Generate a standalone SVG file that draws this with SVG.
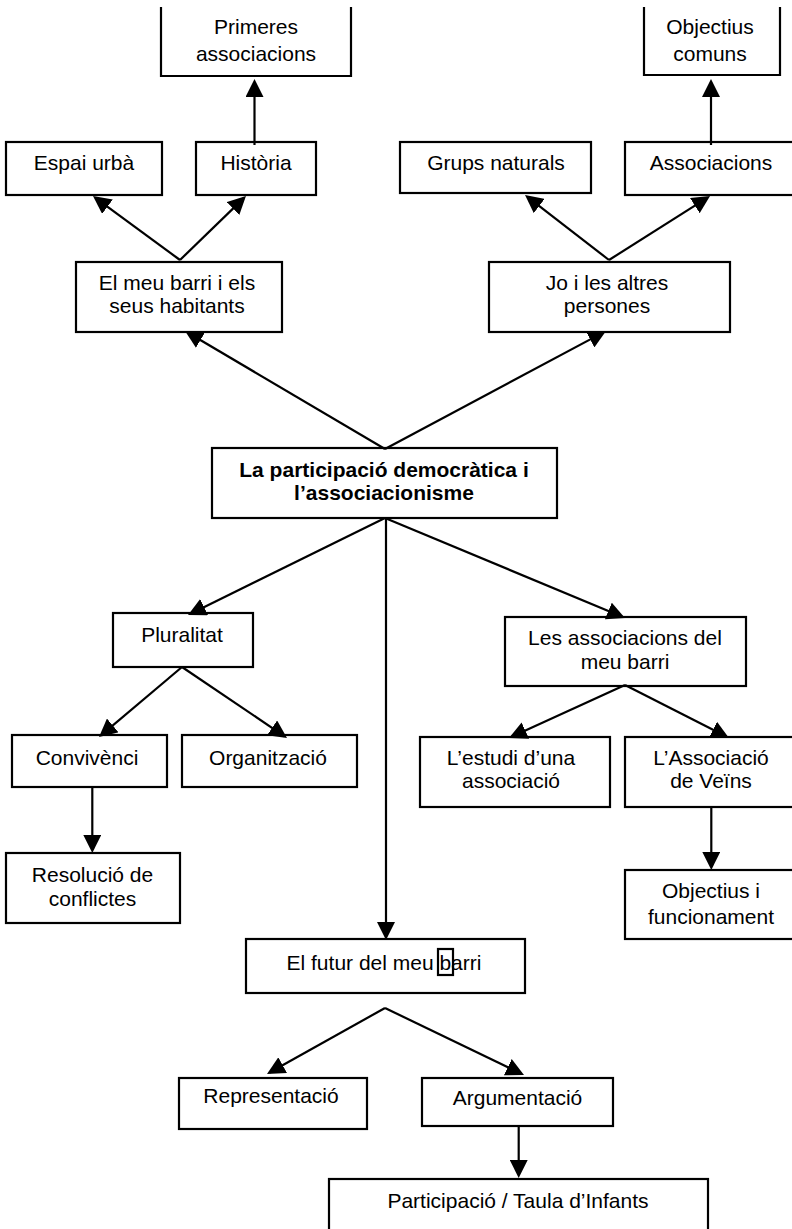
<svg xmlns="http://www.w3.org/2000/svg" width="792" height="1229" viewBox="0 0 792 1229">
<style>
.box{fill:#fff;stroke:#000;stroke-width:2.2}
.open{fill:none;stroke:#000;stroke-width:2.2}
.t{font-family:"Liberation Sans",Arial,sans-serif;font-size:21px;fill:#000;text-anchor:middle}
.b{font-weight:bold}
.c{stroke:#000;stroke-width:2.2;fill:none;marker-end:url(#ah)}
</style>
<defs>
<marker id="ah" viewBox="0 0 18 18" refX="15" refY="9" markerWidth="18" markerHeight="18" markerUnits="userSpaceOnUse" orient="auto"><path d="M0,0 L18,9 L0,18 z" fill="#000"/></marker>
</defs>
<rect width="792" height="1229" fill="#fff"/>
<g id="nodes">
<g id="n-primeres"><rect x="161" y="7" width="190" height="69" fill="#fff"/><path class="open" d="M161,7 V76 H351 V7"/><text class="t" x="256" y="34">Primeres</text><text class="t" x="256" y="61">associacions</text></g>
<g id="n-objcomuns"><rect x="644" y="7" width="136" height="68" fill="#fff"/><path class="open" d="M644,7 V75 H780 V7"/><text class="t" x="710" y="34">Objectius</text><text class="t" x="710" y="61">comuns</text></g>
<g id="n-espai"><rect class="box" x="6" y="142" width="156" height="53"/><text class="t" x="84" y="170">Espai urbà</text></g>
<g id="n-historia"><rect class="box" x="196" y="142" width="120" height="53"/><text class="t" x="256" y="170">Història</text></g>
<g id="n-grups"><rect class="box" x="400" y="142" width="191" height="51"/><text class="t" x="496" y="170">Grups naturals</text></g>
<g id="n-associacions"><rect class="box" x="625" y="142" width="172" height="53"/><text class="t" x="711" y="170">Associacions</text></g>
<g id="n-barri"><rect class="box" x="76" y="262" width="206" height="70"/><text class="t" x="177" y="290">El meu barri i els</text><text class="t" x="177" y="313">seus habitants</text></g>
<g id="n-jo"><rect class="box" x="489" y="262" width="241" height="70"/><text class="t" x="607" y="290">Jo i les altres</text><text class="t" x="607" y="313">persones</text></g>
<g id="n-centre"><rect class="box" x="212" y="448" width="345" height="70"/><text class="t b" x="384" y="477">La participació democràtica i</text><text class="t b" x="384" y="500">l’associacionisme</text></g>
<g id="n-pluralitat"><rect class="box" x="113" y="613" width="140" height="54"/><text class="t" x="182" y="642">Pluralitat</text></g>
<g id="n-lesassoc"><rect class="box" x="505" y="617" width="241" height="69"/><text class="t" x="625" y="645">Les associacions del</text><text class="t" x="625" y="669">meu barri</text></g>
<g id="n-convivencia"><rect class="box" x="12" y="735" width="155" height="52"/><text class="t" x="87" y="765">Convivènci</text></g>
<g id="n-organitzacio"><rect class="box" x="182" y="735" width="175" height="52"/><text class="t" x="268" y="765">Organització</text></g>
<g id="n-estudi"><rect class="box" x="420" y="737" width="190" height="70"/><text class="t" x="511" y="765">L’estudi d’una</text><text class="t" x="511" y="788">associació</text></g>
<g id="n-aveins"><rect class="box" x="625" y="737" width="172" height="70"/><text class="t" x="711" y="765">L’Associació</text><text class="t" x="711" y="788">de Veïns</text></g>
<g id="n-resolucio"><rect class="box" x="6" y="853" width="174" height="70"/><text class="t" x="92.5" y="882">Resolució de</text><text class="t" x="92.5" y="906">conflictes</text></g>
<g id="n-objfunc"><rect class="box" x="625" y="870" width="172" height="69"/><text class="t" x="711" y="898">Objectius i</text><text class="t" x="711" y="924">funcionament</text></g>
<g id="n-futur"><rect class="box" x="246" y="939" width="279" height="54"/><text class="t" x="384" y="970">El futur del meu barri</text><rect x="438" y="949" width="15" height="26" fill="none" stroke="#000" stroke-width="2.2"/></g>
<g id="n-representacio"><rect class="box" x="179" y="1078" width="188" height="51"/><text class="t" x="271" y="1103">Representació</text></g>
<g id="n-argumentacio"><rect class="box" x="422" y="1078" width="191" height="48"/><text class="t" x="517.5" y="1105">Argumentació</text></g>
<g id="n-participacio"><rect class="box" x="329" y="1179" width="379" height="80"/><text class="t" x="518" y="1208">Participació / Taula d’Infants</text></g>
</g>
<g id="connectors">
<line class="c" x1="254.5" y1="145" x2="254.5" y2="82"/>
<line class="c" x1="711" y1="145" x2="711" y2="82"/>
<line class="c" x1="180" y1="260" x2="95.4" y2="197.8"/>
<line class="c" x1="180" y1="260" x2="243.8" y2="198.1"/>
<line class="c" x1="609" y1="260" x2="527.4" y2="196.8"/>
<line class="c" x1="609" y1="260" x2="707.5" y2="197.6"/>
<line class="c" x1="385" y1="449" x2="187.6" y2="332.5"/>
<line class="c" x1="385" y1="449" x2="603.4" y2="332.4"/>
<line class="c" x1="385" y1="518" x2="190.7" y2="613.7"/>
<line class="c" x1="385" y1="518" x2="622.2" y2="616.8"/>
<line class="c" x1="386" y1="518" x2="386" y2="937"/>
<line class="c" x1="182" y1="667" x2="101.3" y2="735.1"/>
<line class="c" x1="182" y1="667" x2="284.5" y2="736.3"/>
<line class="c" x1="625" y1="685" x2="511.7" y2="736.8"/>
<line class="c" x1="625" y1="685" x2="726.3" y2="736.6"/>
<line class="c" x1="92.3" y1="787" x2="92.3" y2="850"/>
<line class="c" x1="711.3" y1="807" x2="711.3" y2="867"/>
<line class="c" x1="385" y1="1008" x2="269.6" y2="1072.5"/>
<line class="c" x1="385" y1="1008" x2="521.3" y2="1073.7"/>
<line class="c" x1="518.7" y1="1126" x2="518.7" y2="1175"/>
</g>
</svg>
